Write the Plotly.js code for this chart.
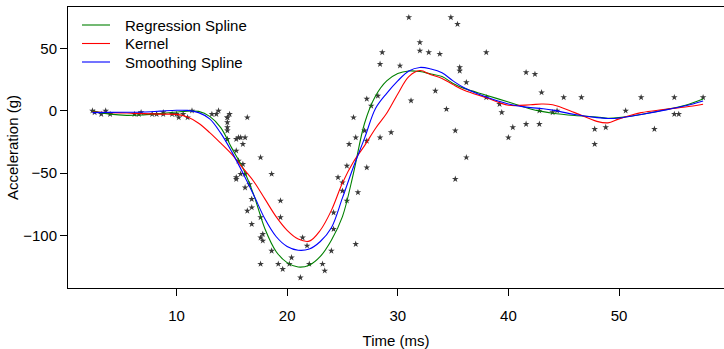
<!DOCTYPE html>
<html>
<head>
<meta charset="utf-8">
<script src="https://cdn.plot.ly/plotly-3.0.1.min.js"></script>
<style>html,body{margin:0;padding:0;background:#fff;}#chart{width:724px;height:349px;}</style>
</head>
<body>
<div id="chart"></div>
<script>
// Observed data (time in ms, acceleration in g)
var times = [2.4,2.6,3.2,3.6,4.0,6.2,6.6,6.8,7.8,8.2,8.8,8.8,9.6,10.0,10.2,10.6,11.0,11.4,13.2,13.6,13.8,14.6,14.6,14.6,14.6,14.6,14.6,14.8,15.4,15.4,15.4,15.4,15.6,15.6,15.8,15.8,16.0,16.0,16.2,16.2,16.2,16.4,16.4,16.6,16.8,16.8,16.8,17.6,17.6,17.6,17.6,17.8,17.8,18.6,18.6,19.2,19.4,19.4,19.6,20.2,20.4,21.2,21.4,21.8,22.0,23.2,23.4,24.0,24.2,24.2,24.6,25.0,25.0,25.4,25.4,25.6,26.0,26.2,26.2,26.4,27.0,27.2,27.2,27.2,27.6,28.2,28.4,28.4,28.6,29.4,30.2,31.0,31.2,32.0,32.0,32.8,33.4,33.8,34.4,34.8,35.2,35.2,35.4,35.6,35.6,36.2,36.2,38.0,38.0,39.2,39.4,40.0,40.4,41.6,41.6,42.4,42.8,42.8,43.0,44.0,44.4,45.0,46.6,47.8,47.8,48.8,50.6,52.0,53.2,55.0,55.0,55.4,57.6];
var accel = [0.0,-1.3,-2.7,0.0,-2.7,-2.7,-2.7,-1.3,-2.7,-2.7,-1.3,-2.7,-2.7,-2.7,-5.4,-2.7,-5.4,0.0,-2.7,-2.7,0.0,-13.3,-5.4,-5.4,-9.3,-16.0,-22.8,-2.7,-22.8,-32.1,-53.5,-54.9,-40.2,-21.5,-21.5,-50.8,-42.9,-26.8,-21.5,-50.8,-61.7,-5.4,-80.4,-59.0,-71.0,-91.1,-77.7,-37.5,-85.6,-123.1,-101.9,-99.1,-104.4,-112.5,-50.8,-123.1,-85.6,-72.3,-127.2,-123.1,-117.9,-134.0,-101.9,-108.4,-123.1,-123.1,-128.5,-112.5,-95.1,-81.8,-53.5,-64.4,-57.6,-72.3,-44.3,-26.8,-5.4,-107.1,-21.5,-65.6,-16.0,-45.6,-24.2,9.5,4.0,12.0,-21.5,37.5,46.9,-17.4,36.2,75.0,8.1,54.9,48.2,46.9,16.0,45.6,1.3,75.0,-16.0,-54.9,69.6,34.8,32.1,-37.5,22.8,46.9,10.7,5.4,-1.3,-21.5,-13.3,30.8,-10.7,29.4,0.0,-10.7,14.7,-1.3,0.0,10.7,10.7,-26.8,-14.7,-13.3,0.0,10.7,-14.7,-2.7,10.7,-2.7,10.7];

// Fitted curves, on a common time grid
var fitTimes = [2.4,4,5.5,7,8.5,10,11,12,13,14,15,16,17,18,19,20,21,22,23,24,25,26,27,28,29,30,31,32,33,34,35,36,38,40,42,43,44,46,48,49,50,52,54,56,57.6];
var regSpline = [-0.3,-2.7,-3.7,-3.3,-2.3,-1.0,-0.3,-0.5,-4.5,-13.5,-30,-46,-68,-95,-113,-122,-125.5,-124,-117,-104,-85,-50,-10,12,24,30,32,31.5,29.5,27.5,22,18,12.5,7,1.5,-0.5,-2,-3.8,-5,-6,-5.5,-3,0.5,4.5,9.5];
var kernel = [-1.0,-1.5,-1.8,-2.3,-2.7,-2.9,-5,-10,-17.5,-26,-35,-46,-57,-71,-85,-96,-103,-104.7,-96,-80,-58,-41,-28,-14,-2,13.5,27.5,32.3,29,26,21,16.5,10.5,4.5,4.8,5.4,4.8,-1.5,-8.5,-9.7,-6.5,-1.5,1,3,5.2];
var smoothSpline = [-1.5,-1.3,-1.2,-1.0,-0.3,0.4,0.3,-1.5,-6.5,-18,-33,-50,-68,-87,-101,-109,-112,-111,-105,-94,-70,-45,-22,2,14,24,32,34.8,33.5,30.5,24,18.5,11,5.5,2.5,1.8,0.5,-3,-5.5,-6.2,-5.8,-3,0.3,4,7.9];

var seriesNames = ['Regression Spline','Kernel','Smoothing Spline'];
var seriesColors = ['#008000','#ff0000','#0000ff'];
var seriesValues = [regSpline, kernel, smoothSpline];

var FONT = '"Liberation Sans", Arial, Helvetica, sans-serif';

var traces = [{
  x: times, y: accel, type: 'scatter', mode: 'markers', showlegend: false,
  marker: {symbol: 'star', size: 5, color: '#3a3a3a'},
  hoverinfo: 'x+y'
}];
for (var i = 0; i < seriesNames.length; i++) {
  traces.push({
    x: fitTimes, y: seriesValues[i], type: 'scatter', mode: 'lines',
    name: seriesNames[i], showlegend: false,
    line: {color: seriesColors[i], width: 1.1, shape: 'spline', smoothing: 1}
  });
}

// Legend drawn as key lines + labels (top-left, like R's legend with bty="n")
var legendRowsPx = [25, 43.5, 62];
var shapes = [], annotations = [];
function px2paperX(px) { return (px - 68) / 656; }
function px2paperY(py) { return (288 - py) / 281; }
for (var j = 0; j < seriesNames.length; j++) {
  var yy = px2paperY(legendRowsPx[j]);
  shapes.push({type: 'line', xref: 'paper', yref: 'paper',
    x0: px2paperX(82), x1: px2paperX(110), y0: yy, y1: yy,
    line: {color: seriesColors[j], width: 1.1}});
  annotations.push({xref: 'paper', yref: 'paper', x: px2paperX(123), y: yy,
    xanchor: 'left', yanchor: 'middle', showarrow: false, text: seriesNames[j],
    font: {family: FONT, size: 15, color: '#000'}});
}

var layout = {
  width: 724, height: 349,
  margin: {l: 68, r: 0, t: 7, b: 61, pad: 0},
  paper_bgcolor: '#fff', plot_bgcolor: '#fff',
  font: {family: FONT, size: 15, color: '#000'},
  showlegend: false,
  shapes: shapes,
  annotations: annotations,
  xaxis: {
    range: [0.192, 59.49], showgrid: false, zeroline: false,
    showline: true, mirror: true, linecolor: '#000', linewidth: 1,
    ticks: 'outside', ticklen: 7, tickwidth: 1, tickcolor: '#000',
    tickvals: [10,20,30,40,50], ticktext: ['10','20','30','40','50'],
    ticklabelstandoff: 7,
    tickfont: {family: FONT, size: 15, color: '#000'},
    title: {text: 'Time (ms)', font: {family: FONT, size: 15, color: '#000'}, standoff: 13}
  },
  yaxis: {
    range: [-142.36, 83.36], showgrid: false, zeroline: false,
    showline: true, mirror: true, linecolor: '#000', linewidth: 1,
    ticks: 'outside', ticklen: 7, tickwidth: 1, tickcolor: '#000',
    tickvals: [-100,-50,0,50], ticktext: ['\u2212100','\u221250','0','50'],
    tickfont: {family: FONT, size: 15, color: '#000'},
    title: {text: 'Acceleration (g)', font: {family: FONT, size: 15, color: '#000'}, standoff: 0}
  }
};

Plotly.newPlot('chart', traces, layout, {displayModeBar: false, staticPlot: true});
</script>
</body>
</html>
